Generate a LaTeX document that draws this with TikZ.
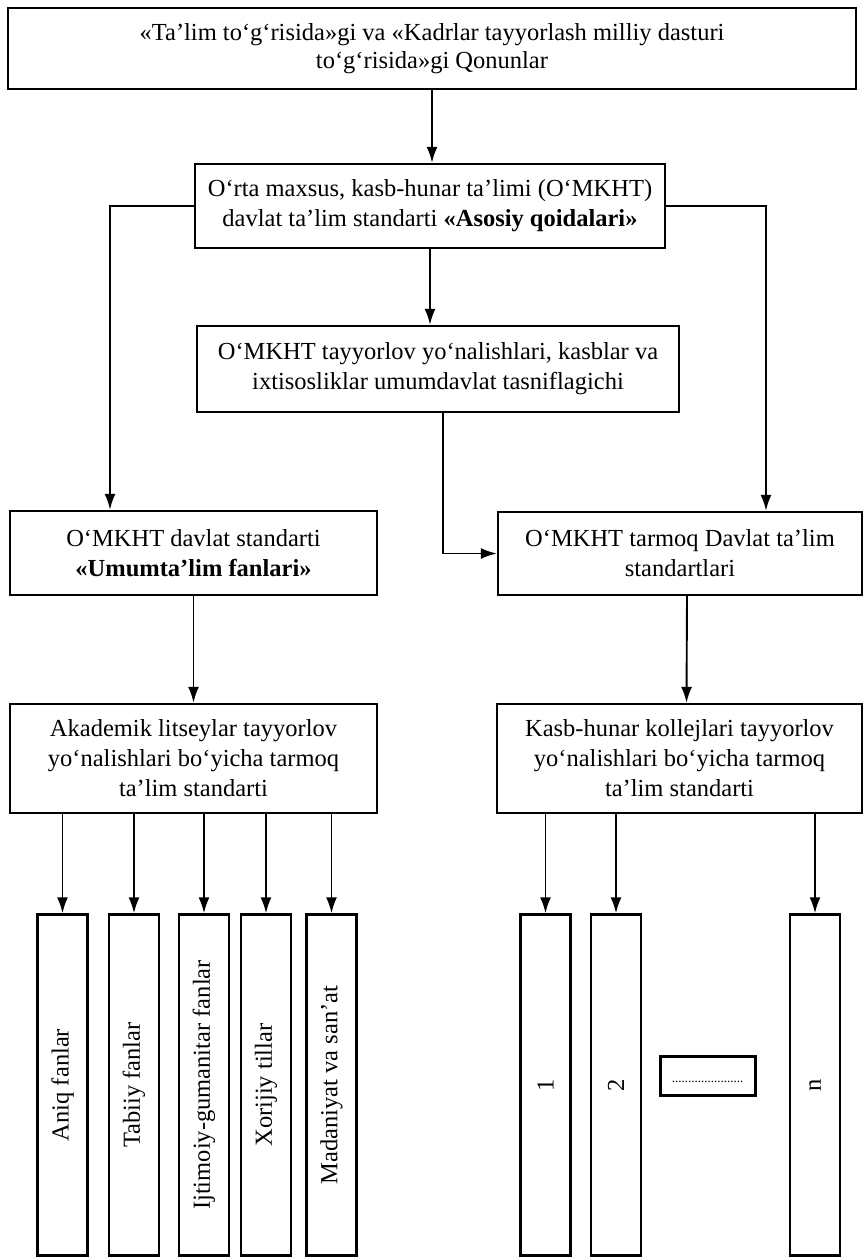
\documentclass[tikz,border=0pt]{standalone}
\usepackage{fontspec}
\setmainfont{Liberation Serif}
\usetikzlibrary{arrows.meta,calc}
\tikzset{
  box/.style={draw, line width=2.4pt, align=center, inner sep=0pt, font=\fontsize{24.5}{30}\selectfont},
  vbox/.style={draw, line width=2.4pt, minimum width=50pt, minimum height=341pt, inner sep=0pt, font=\fontsize{24.5}{30}\selectfont},
  arr/.style={line width=1.9pt, -{Latex[length=16pt,width=11pt]}},
}
\begin{document}
\begin{tikzpicture}[x=1pt,y=-1pt]
\useasboundingbox (0,0) rectangle (864,1258);
\node[box, minimum width=848pt, minimum height=81pt, font=\fontsize{24.5}{28}\selectfont] (b1) at (432,48.5)
  {«Ta’lim to‘g‘risida»gi va «Kadrlar tayyorlash milliy dasturi\\to‘g‘risida»gi Qonunlar};
\node[box, minimum width=470pt, minimum height=84pt] (b2) at (430,206)
  {O‘rta maxsus, kasb-hunar ta’limi (O‘MKHT)\\davlat ta’lim standarti \textbf{«Asosiy qoidalari»}};
\node[box, minimum width=482pt, minimum height=86pt] (b3) at (438,369)
  {O‘MKHT tayyorlov yo‘nalishlari, kasblar va\\ixtisosliklar umumdavlat tasniflagichi};
\node[box, minimum width=367pt, minimum height=84pt] (b4) at (193.5,553)
  {O‘MKHT davlat standarti\\\textbf{«Umumta’lim fanlari»}};
\node[box, minimum width=364pt, minimum height=83pt] (b5) at (680,553.5)
  {O‘MKHT tarmoq Davlat ta’lim\\standartlari};
\node[box, minimum width=367pt, minimum height=109pt] (ak) at (193.5,758.5)
  {Akademik litseylar tayyorlov\\yo‘nalishlari bo‘yicha tarmoq\\ta’lim standarti};
\node[box, minimum width=365pt, minimum height=109pt] (kb) at (679.5,758.5)
  {Kasb-hunar kollejlari tayyorlov\\yo‘nalishlari bo‘yicha tarmoq\\ta’lim standarti};

\node[vbox] (a1) at (62.5,1085) {\rotatebox{90}{Aniq fanlar}};
\node[vbox] (a2) at (134,1085) {\rotatebox{90}{Tabiiy fanlar}};
\node[vbox] (a3) at (204,1085) {\rotatebox{90}{Ijtimoiy-gumanitar fanlar}};
\node[vbox] (a4) at (266,1085) {\rotatebox{90}{Xorijiy tillar}};
\node[vbox] (a5) at (331.5,1085) {\rotatebox{90}{Madaniyat va san’at}};

\node[vbox] (k1) at (545.5,1085) {\rotatebox{90}{1}};
\node[vbox] (k2) at (616,1085) {\rotatebox{90}{2}};
\node[draw, line width=3pt, minimum width=95pt, minimum height=39pt, inner sep=0pt] (kd) at (707.5,1075.5)
  {\raisebox{-14pt}{\fontsize{13}{13}\selectfont ......................}};
\node[vbox] (kn) at (815,1085) {\rotatebox{90}{n}};

\coordinate (lx) at (110,207);
\coordinate (rx) at (766,207);

\draw[arr] (b1.south) -- (b1.south |- b2.north);
\draw[arr] (b2.south) -- (b2.south |- b3.north);
\draw[arr] (b2.west) -| (b4.north -| lx);
\draw[arr] (b2.east) -| (b5.north -| rx);
\draw[arr] ([xshift=5pt]b3.south) |- (b5.west);
\draw[arr] (b4.south) -- (ak.north);
\draw[arr] ([xshift=7pt]b5.south) -- ([xshift=7pt]kb.north);
\foreach \v in {a1,a2,a3,a4,a5,k1,k2,kn}{
  \draw[arr] (ak.south -| \v.north) -- (\v.north);
}
\end{tikzpicture}
\end{document}
